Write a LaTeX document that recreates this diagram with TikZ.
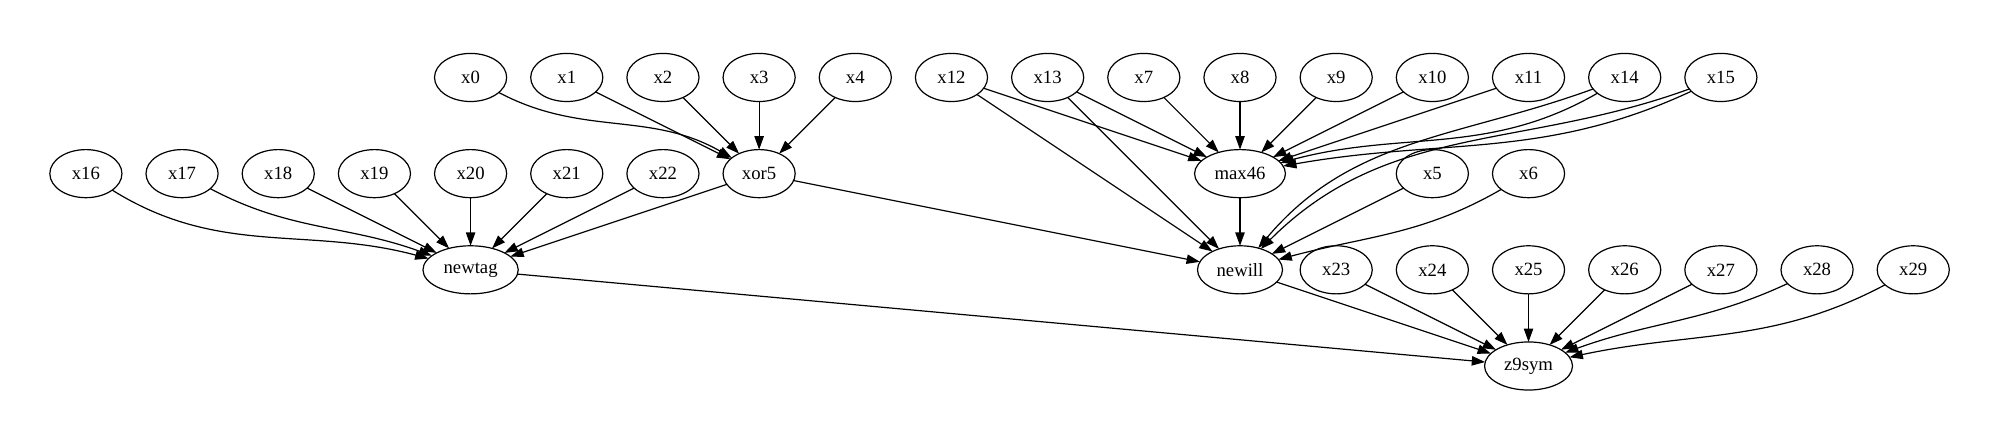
\documentclass[tikz,border=0pt]{standalone}
\usepackage{fontspec}
\setmainfont{Liberation Serif}
\usetikzlibrary{positioning, shapes.geometric, arrows.meta}

\begin{document}
\begin{tikzpicture}[x=1pt, y=1pt, node distance=36pt and 18pt,
		var/.style={ellipse, draw, line width=0.9pt, outer sep=0pt, minimum width=54pt, minimum height=36pt, inner xsep=5pt, inner ysep=2pt, font=\fontsize{14}{16}\selectfont},
		>={Triangle[length=10pt, width=7pt]}]
		\useasboundingbox (0,0) rectangle (1504,331.7);

		% middle row
		\node [var] (x16) at (64.3,201.7) {x16};
		\node [var, right = of x16] (x17) {x17};
		\node [var, right = of x17] (x18) {x18};
		\node [var, right = of x18] (x19) {x19};
		\node [var, right = of x19] (x20) {x20};
		\node [var, right = of x20] (x21) {x21};
		\node [var, right = of x21] (x22) {x22};
		\node [var, right = of x22] (xor5) {xor5};

		% top row
		\node [var, above = of x20] (x0) {x0};
		\node [var, right = of x0] (x1) {x1};
		\node [var, right = of x1] (x2) {x2};
		\node [var, right = of x2] (x3) {x3};
		\node [var, right = of x3] (x4) {x4};
		\node [var, right = of x4] (x12) {x12};
		\node [var, right = of x12] (x13) {x13};
		\node [var, right = of x13] (x7) {x7};
		\node [var, right = of x7] (x8) {x8};
		\node [var, right = of x8] (x9) {x9};
		\node [var, right = of x9] (x10) {x10};
		\node [var, right = of x10] (x11) {x11};
		\node [var, right = of x11] (x14) {x14};
		\node [var, right = of x14] (x15) {x15};

		\node [var, below = of x8] (max46) {max46};
		\node [var, below = of x10] (x5) {x5};
		\node [var, right = of x5] (x6) {x6};

		% bottom rows
		\node [var, below = of x20] (newtag) {newtag};
		\node [var, below = of max46] (newill) {newill};
		\node [var, below = of x5] (x24) {x24};
		\node [var, left = of x24] (x23) {x23};
		\node [var, right = of x24] (x25) {x25};
		\node [var, right = of x25] (x26) {x26};
		\node [var, right = of x26] (x27) {x27};
		\node [var, right = of x27] (x28) {x28};
		\node [var, right = of x28] (x29) {x29};
		\node [var, below = of x25] (z9sym) {z9sym};

		\path [->, line width=0.9pt]
		(x0) edge [out=-28, in=150] (xor5)
		(x1) edge (xor5)
		(x2) edge (xor5)
		(x3) edge (xor5)
		(x4) edge (xor5)
		(x12) edge (max46)
		edge (newill)
		(x13) edge (max46)
		edge (newill)
		(x7) edge (max46)
		(x8) edge (max46)
		(x9) edge (max46)
		(x10) edge (max46)
		(x11) edge (max46)
		(x14) edge [out=-150, in=15] (max46)
		edge [out=-160, in=50] (newill)
		(x15) edge [out=-155, in=10] (max46)
		edge [out=-160, in=45] (newill)
		(x5) edge (newill)
		(x6) edge [out=-150, in=15] (newill)
		(x16) edge [out=-32, in=165] (newtag)
		(x17) edge [out=-28, in=160] (newtag)
		(x18) edge (newtag)
		(x19) edge (newtag)
		(x20) edge (newtag)
		(x21) edge (newtag)
		(x22) edge (newtag)
		(xor5) edge (newtag)
		edge (newill)
		(max46) edge (newill)
		(newtag) edge (z9sym)
		(newill) edge (z9sym)
		(x23) edge (z9sym)
		(x24) edge (z9sym)
		(x25) edge (z9sym)
		(x26) edge (z9sym)
		(x27) edge (z9sym)
		(x28) edge [out=-155, in=20] (z9sym)
		(x29) edge [out=-152, in=12] (z9sym);

	\end{tikzpicture}
\end{document}
